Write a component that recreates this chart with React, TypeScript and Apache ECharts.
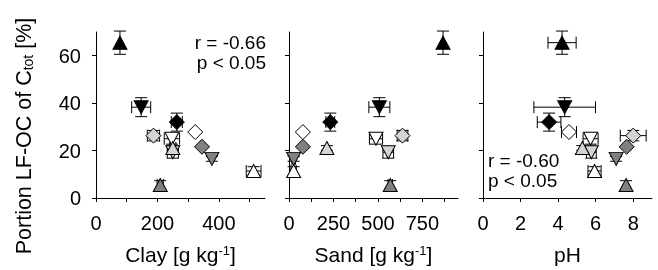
import React, { useEffect, useRef } from "react";
import * as echarts from "echarts";

// ---- data ----
const samples = ["BU", "BD", "BDi", "WDi", "GDi", "GD", "WU", "GU", "LDi", "WD", "LD", "LU"];
const shapes = ["up", "down", "diamond", "diamond", "diamond", "down", "up", "up", "diamond", "down", "down", "up"];
const fills = ["#000000", "#000000", "#000000", "#ffffff", "#808080", "#808080", "#ffffff", "#808080", "#d4d4d4", "#ffffff", "#d4d4d4", "#d4d4d4"];
const portion = [65.5, 38.3, 32.0, 27.8, 21.6, 16.5, 11.4, 5.5, 26.3, 25.0, 19.3, 21.1];
const portionErr = [4.9, 4.0, 3.8, 0, 0, 1.0, 1.8, 1.8, 2.2, 2.3, 2.5, 1.0];
const clay = [78, 147, 263, 323, 345, 377, 513, 209, 187, 247, 250, 250];
const clayErr = [0, 31, 18, 0, 0, 0, 24, 10, 20, 25, 18, 10];
const sand = [866, 508, 232, 78, 78, 26, 26, 569, 638, 489, 558, 213];
const sandErr = [0, 59, 25, 0, 0, 10, 15, 12, 30, 37, 30, 0];
const ph = [4.21, 4.35, 3.52, 4.58, 7.65, 7.09, 5.94, 7.62, 8.0, 5.73, 5.77, 5.29];
const phErr = [0.75, 1.64, 0.63, 0.4, 0, 0, 0.35, 0, 0.69, 0.4, 0.26, 0];

const yTicks = [0, 20, 40, 60];
const clayTicks = [0, 100, 200, 300, 400, 500];
const clayLabels = [0, 200, 400];
const sandTicks = [0, 125, 250, 375, 500, 625, 750, 875];
const sandLabels = [0, 250, 500, 750];
const phTicks = [0, 2, 4, 6, 8];
const phLabels = [0, 2, 4, 6, 8];

const FONT = "Liberation Sans, Arial, sans-serif";

function scatterData(xs: number[]) {
  return samples.map((_, i) => ({
    value: [xs[i], portion[i]],
    symbol: shapes[i] === "diamond" ? "diamond" : "triangle",
    symbolRotate: shapes[i] === "down" ? 180 : 0,
    symbolSize: shapes[i] === "diamond" ? [15, 15] : [14, 13],
    itemStyle: { color: fills[i], borderColor: "#000", borderWidth: 1, opacity: 1 },
  }));
}

function errData(xs: number[], xe: number[]) {
  return samples.map((_, i) => [xs[i], portion[i], xe[i], portionErr[i]]);
}

const CAP = 6;
function renderErr(params: any, api: any) {
  const x = api.value(0), y = api.value(1), xe = api.value(2), ye = api.value(3);
  const c = api.coord([x, y]);
  const st = { stroke: "#000", lineWidth: 1 };
  const children: any[] = [];
  if (ye > 0) {
    const t = api.coord([x, y + ye]);
    const b = api.coord([x, y - ye]);
    children.push({ type: "line", shape: { x1: c[0], y1: t[1], x2: c[0], y2: b[1] }, style: st });
    children.push({ type: "line", shape: { x1: c[0] - CAP, y1: t[1], x2: c[0] + CAP, y2: t[1] }, style: st });
    children.push({ type: "line", shape: { x1: c[0] - CAP, y1: b[1], x2: c[0] + CAP, y2: b[1] }, style: st });
  }
  if (xe > 0) {
    const l = api.coord([x - xe, y]);
    const r = api.coord([x + xe, y]);
    children.push({ type: "line", shape: { x1: l[0], y1: c[1], x2: r[0], y2: c[1] }, style: st });
    children.push({ type: "line", shape: { x1: l[0], y1: c[1] - CAP, x2: l[0], y2: c[1] + CAP }, style: st });
    children.push({ type: "line", shape: { x1: r[0], y1: c[1] - CAP, x2: r[0], y2: c[1] + CAP }, style: st });
  }
  return { type: "group", children };
}

const TICK_FS = 20;
const NAME_FS = 21;

function xAxis(idx: number, max: number, ticks: number[], labels: number[], name: string) {
  return {
    type: "value",
    gridIndex: idx,
    min: 0,
    max,
    name,
    nameLocation: "middle",
    nameGap: 46,
    nameTextStyle: {
      rich: {
        n: { fontSize: NAME_FS, fontFamily: FONT, color: "#000" },
        sup: { fontSize: 13, fontFamily: FONT, color: "#000", verticalAlign: "top" },
      },
    },
    axisLine: { show: true, onZero: false, lineStyle: { color: "#000", width: 1 } },
    axisTick: { show: true, inside: false, length: 4, lineStyle: { color: "#000" }, customValues: ticks },
    axisLabel: { show: true, color: "#000", fontSize: TICK_FS, fontFamily: FONT, margin: 15, customValues: labels },
    splitLine: { show: false },
  };
}

function yAxis(idx: number, showLabels: boolean) {
  return {
    type: "value",
    gridIndex: idx,
    min: 0,
    max: 70,
    axisLine: { show: true, onZero: false, lineStyle: { color: "#000", width: 1 } },
    axisTick: { show: true, inside: false, length: 4, lineStyle: { color: "#000" }, customValues: yTicks },
    axisLabel: { show: showLabels, color: "#000", fontSize: TICK_FS, fontFamily: FONT, margin: 15, customValues: yTicks },
    splitLine: { show: false },
  };
}

export default function App() {
  const ref = useRef<HTMLDivElement>(null);
  useEffect(() => {
    document.body.style.margin = "0";
    const chart = echarts.init(ref.current!, null, { renderer: "svg" });
    const grids = [96, 289, 483].map((left) => ({ left, top: 32, width: 169, height: 167 }));
    const xs = [clay, sand, ph];
    const xes = [clayErr, sandErr, phErr];
    const series: any[] = [];
    for (let g = 0; g < 3; g++) {
      series.push({
        type: "custom",
        xAxisIndex: g,
        yAxisIndex: g,
        renderItem: renderErr,
        data: errData(xs[g], xes[g]),
        encode: { x: 0, y: 1 },
        silent: true,
        z: 2,
      });
      series.push({
        type: "scatter",
        xAxisIndex: g,
        yAxisIndex: g,
        data: scatterData(xs[g]),
        z: 3,
      });
    }
    const txt = (text: string, x: number, y: number, align: string) => ({
      type: "text",
      x,
      y,
      style: { text, fontSize: 19, fontFamily: FONT, fill: "#000", align, verticalAlign: "middle" },
    });
    chart.setOption({
      animation: false,
      grid: grids,
      xAxis: [
        xAxis(0, 550, clayTicks, clayLabels, "{n|Clay [g kg}{sup|-1}{n|]}"),
        xAxis(1, 950, sandTicks, sandLabels, "{n|Sand [g kg}{sup|-1}{n|]}"),
        xAxis(2, 9, phTicks, phLabels, "{n|pH}"),
      ],
      yAxis: [yAxis(0, true), yAxis(1, false), yAxis(2, false)],
      series,
      graphic: [
        {
          type: "text",
          x: 24,
          y: 136,
          rotation: Math.PI / 2,
          style: {
            text: "{a|Portion LF-OC of C}{b|tot}{a| [%]}",
            align: "center",
            verticalAlign: "middle",
            rich: {
              a: { fontSize: 21.5, fontFamily: FONT, fill: "#000" },
              b: { fontSize: 14, fontFamily: FONT, fill: "#000", verticalAlign: "bottom" },
            },
          },
        },
        txt("r = -0.66", 266, 42, "right"),
        txt("p < 0.05", 266, 62, "right"),
        txt("r = -0.60", 488, 160.5, "left"),
        txt("p < 0.05", 488, 180.5, "left"),
      ],
    });
    return () => chart.dispose();
  }, []);
  return <div ref={ref} style={{ position: "fixed", left: 0, top: 0, width: 658, height: 270 }} />;
}
